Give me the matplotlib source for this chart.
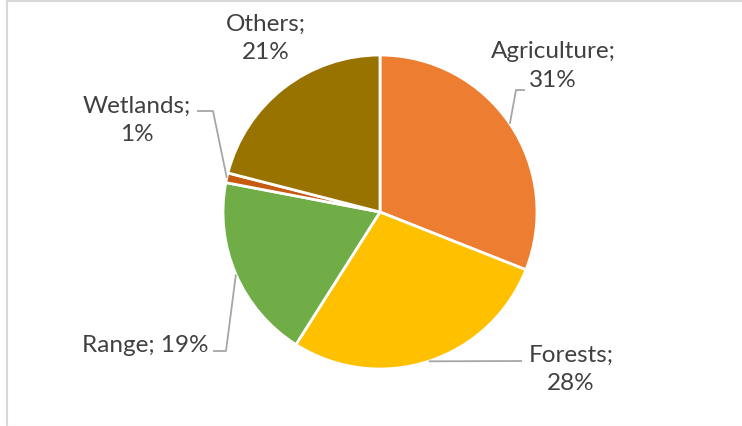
import numpy as np
import matplotlib
matplotlib.use("Agg")
import matplotlib.pyplot as plt
from matplotlib.lines import Line2D

categories = ["Agriculture", "Forests", "Range", "Wetlands", "Others"]
values = [31, 28, 19, 1, 21]
colors = ["#ED7D31", "#FFC000", "#70AD47", "#C55A11", "#997300"]
label_texts = ["Agriculture;\n31%", "Forests;\n28%", "Range; 19%", "Wetlands;\n1%", "Others;\n21%"]

W, H = 742, 427
fig = plt.figure(figsize=(W / 100, H / 100), dpi=100)
ax = fig.add_axes([0, 0, 1, 1])
ax.set_xlim(0, W)
ax.set_ylim(0, H)
ax.set_aspect("equal")
ax.axis("off")

def P(x, y):
    return (x, H - y)

cx, cy = P(380, 213)
R = 157
wedges, _ = ax.pie(values, colors=colors, startangle=90, counterclock=False,
                   center=(cx, cy), radius=R,
                   wedgeprops=dict(edgecolor="white", linewidth=2.0))
ax.set_xlim(0, W)
ax.set_ylim(0, H)

# label centres (pixel coords) and leader line bends
label_pos = [P(553, 66), P(571, 369), P(145, 346), P(137, 120), P(266, 38)]
leaders = [
    [P(516, 91), P(525, 91)],
    [P(522, 362)],
    [P(226, 352), P(213, 352)],
    [P(213, 112), P(197, 112)],
    None,
]

txt_color = "#404040"
line_color = "#A6A6A6"
for w, lp, ld, t in zip(wedges, label_pos, leaders, label_texts):
    ax.text(lp[0], lp[1], t, ha="center", va="center", fontsize=17.5,
            family="Lato", color=txt_color, linespacing=1.42)
    if ld is not None:
        mid = np.deg2rad((w.theta1 + w.theta2) / 2)
        start = (cx + R * np.cos(mid), cy + R * np.sin(mid))
        xs = [start[0]] + [p[0] for p in ld]
        ys = [start[1]] + [p[1] for p in ld]
        ax.plot(xs, ys, color=line_color, linewidth=1.3, solid_capstyle="butt")

# chart border (partially visible)
fig.add_artist(Line2D([7.5 / W, 1], [1 - 1.5 / H, 1 - 1.5 / H], color="#D9D9D9", linewidth=1.5, transform=fig.transFigure))
fig.add_artist(Line2D([7.5 / W, 7.5 / W], [0, 1 - 1.5 / H], color="#D9D9D9", linewidth=1.5, transform=fig.transFigure))
fig.add_artist(Line2D([7.5 / W, 1], [0.5 / H, 0.5 / H], color="#F2F2F2", linewidth=1, transform=fig.transFigure))

fig.savefig("out.png", dpi=100, facecolor="white")
